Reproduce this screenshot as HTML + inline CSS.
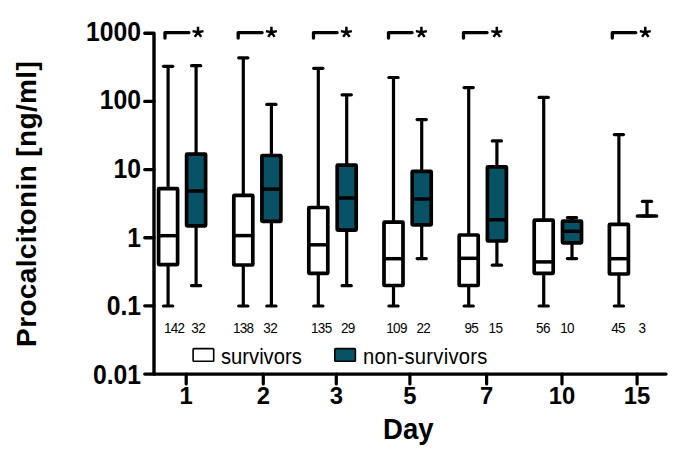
<!DOCTYPE html>
<html><head><meta charset="utf-8"><style>
html,body{margin:0;padding:0;background:#fff;}
body{width:685px;height:457px;overflow:hidden;}
svg{display:block;}
</style></head><body>
<svg width="685" height="457" viewBox="0 0 685 457">
<rect width="685" height="457" fill="#fff"/>
<g stroke="#000" stroke-width="3.4" fill="none" stroke-linecap="round" stroke-linejoin="round">
<polyline points="144.8,33.25 154,33.25 154,374.1 666,374.1"/>
<line x1="144.8" y1="101.4" x2="154" y2="101.4"/>
<line x1="144.8" y1="169.6" x2="154" y2="169.6"/>
<line x1="144.8" y1="237.8" x2="154" y2="237.8"/>
<line x1="144.8" y1="305.85" x2="154" y2="305.85"/>
<line x1="144.8" y1="374.1" x2="154" y2="374.1"/>
<line x1="186.2" y1="374" x2="186.2" y2="384" stroke-width="3.2"/>
<line x1="263.3" y1="374" x2="263.3" y2="384" stroke-width="3.2"/>
<line x1="336.3" y1="374" x2="336.3" y2="384" stroke-width="3.2"/>
<line x1="409.9" y1="374" x2="409.9" y2="384" stroke-width="3.2"/>
<line x1="486.6" y1="374" x2="486.6" y2="384" stroke-width="3.2"/>
<line x1="562.0" y1="374" x2="562.0" y2="384" stroke-width="3.2"/>
<line x1="637.1" y1="374" x2="637.1" y2="384" stroke-width="3.2"/>
</g>
<g stroke="#000" stroke-width="3.2" stroke-linejoin="round">
<line x1="168.1" y1="66.3" x2="168.1" y2="189.0"/>
<line x1="168.1" y1="264.2" x2="168.1" y2="306.0"/>
<line x1="163.50" y1="66.3" x2="172.70" y2="66.3" stroke-linecap="round"/>
<line x1="163.50" y1="306.0" x2="172.70" y2="306.0" stroke-linecap="round"/>
<rect x="158.60" y="188.70" width="19.0" height="75.90" fill="#fff" rx="0.6" stroke-width="3.7"/>
<line x1="158.60" y1="235.7" x2="177.60" y2="235.7" stroke-width="3.5"/>
<line x1="196.1" y1="65.7" x2="196.1" y2="154.4"/>
<line x1="196.1" y1="225.5" x2="196.1" y2="285.7"/>
<line x1="191.50" y1="65.7" x2="200.70" y2="65.7" stroke-linecap="round"/>
<line x1="191.50" y1="285.7" x2="200.70" y2="285.7" stroke-linecap="round"/>
<rect x="186.60" y="154.10" width="19.0" height="71.80" fill="#085265" rx="0.6" stroke-width="3.7"/>
<line x1="186.60" y1="191.0" x2="205.60" y2="191.0" stroke-width="3.5"/>
<line x1="243.3" y1="57.8" x2="243.3" y2="195.7"/>
<line x1="243.3" y1="264.6" x2="243.3" y2="306.0"/>
<line x1="238.70" y1="57.8" x2="247.90" y2="57.8" stroke-linecap="round"/>
<line x1="238.70" y1="306.0" x2="247.90" y2="306.0" stroke-linecap="round"/>
<rect x="233.80" y="195.40" width="19.0" height="69.60" fill="#fff" rx="0.6" stroke-width="3.7"/>
<line x1="233.80" y1="235.6" x2="252.80" y2="235.6" stroke-width="3.5"/>
<line x1="271.4" y1="104.4" x2="271.4" y2="155.8"/>
<line x1="271.4" y1="220.9" x2="271.4" y2="306.0"/>
<line x1="266.80" y1="104.4" x2="276.00" y2="104.4" stroke-linecap="round"/>
<line x1="266.80" y1="306.0" x2="276.00" y2="306.0" stroke-linecap="round"/>
<rect x="261.90" y="155.50" width="19.0" height="65.80" fill="#085265" rx="0.6" stroke-width="3.7"/>
<line x1="261.90" y1="189.1" x2="280.90" y2="189.1" stroke-width="3.5"/>
<line x1="318.3" y1="68.3" x2="318.3" y2="207.8"/>
<line x1="318.3" y1="273.0" x2="318.3" y2="306.0"/>
<line x1="313.70" y1="68.3" x2="322.90" y2="68.3" stroke-linecap="round"/>
<line x1="313.70" y1="306.0" x2="322.90" y2="306.0" stroke-linecap="round"/>
<rect x="308.80" y="207.50" width="19.0" height="65.90" fill="#fff" rx="0.6" stroke-width="3.7"/>
<line x1="308.80" y1="244.8" x2="327.80" y2="244.8" stroke-width="3.5"/>
<line x1="346.7" y1="94.8" x2="346.7" y2="165.5"/>
<line x1="346.7" y1="229.8" x2="346.7" y2="285.7"/>
<line x1="342.10" y1="94.8" x2="351.30" y2="94.8" stroke-linecap="round"/>
<line x1="342.10" y1="285.7" x2="351.30" y2="285.7" stroke-linecap="round"/>
<rect x="337.20" y="165.20" width="19.0" height="65.00" fill="#085265" rx="0.6" stroke-width="3.7"/>
<line x1="337.20" y1="198.0" x2="356.20" y2="198.0" stroke-width="3.5"/>
<line x1="393.5" y1="77.5" x2="393.5" y2="222.4"/>
<line x1="393.5" y1="285.1" x2="393.5" y2="306.0"/>
<line x1="388.90" y1="77.5" x2="398.10" y2="77.5" stroke-linecap="round"/>
<line x1="388.90" y1="306.0" x2="398.10" y2="306.0" stroke-linecap="round"/>
<rect x="384.00" y="222.10" width="19.0" height="63.40" fill="#fff" rx="0.6" stroke-width="3.7"/>
<line x1="384.00" y1="258.7" x2="403.00" y2="258.7" stroke-width="3.5"/>
<line x1="421.7" y1="119.6" x2="421.7" y2="171.6"/>
<line x1="421.7" y1="224.5" x2="421.7" y2="258.6"/>
<line x1="417.10" y1="119.6" x2="426.30" y2="119.6" stroke-linecap="round"/>
<line x1="417.10" y1="258.6" x2="426.30" y2="258.6" stroke-linecap="round"/>
<rect x="412.20" y="171.30" width="19.0" height="53.60" fill="#085265" rx="0.6" stroke-width="3.7"/>
<line x1="412.20" y1="199.0" x2="431.20" y2="199.0" stroke-width="3.5"/>
<line x1="468.7" y1="87.6" x2="468.7" y2="235.3"/>
<line x1="468.7" y1="285.1" x2="468.7" y2="306.0"/>
<line x1="464.10" y1="87.6" x2="473.30" y2="87.6" stroke-linecap="round"/>
<line x1="464.10" y1="306.0" x2="473.30" y2="306.0" stroke-linecap="round"/>
<rect x="459.20" y="235.00" width="19.0" height="50.50" fill="#fff" rx="0.6" stroke-width="3.7"/>
<line x1="459.20" y1="258.3" x2="478.20" y2="258.3" stroke-width="3.5"/>
<line x1="496.9" y1="140.9" x2="496.9" y2="167.2"/>
<line x1="496.9" y1="240.6" x2="496.9" y2="265.2"/>
<line x1="492.30" y1="140.9" x2="501.50" y2="140.9" stroke-linecap="round"/>
<line x1="492.30" y1="265.2" x2="501.50" y2="265.2" stroke-linecap="round"/>
<rect x="487.40" y="166.90" width="19.0" height="74.10" fill="#085265" rx="0.6" stroke-width="3.7"/>
<line x1="487.40" y1="219.8" x2="506.40" y2="219.8" stroke-width="3.5"/>
<line x1="543.7" y1="97.4" x2="543.7" y2="220.4"/>
<line x1="543.7" y1="272.9" x2="543.7" y2="306.0"/>
<line x1="539.10" y1="97.4" x2="548.30" y2="97.4" stroke-linecap="round"/>
<line x1="539.10" y1="306.0" x2="548.30" y2="306.0" stroke-linecap="round"/>
<rect x="534.20" y="220.10" width="19.0" height="53.20" fill="#fff" rx="0.6" stroke-width="3.7"/>
<line x1="534.20" y1="261.9" x2="553.20" y2="261.9" stroke-width="3.5"/>
<line x1="572.0" y1="217.6" x2="572.0" y2="221.5"/>
<line x1="572.0" y1="242.4" x2="572.0" y2="258.6"/>
<line x1="567.40" y1="217.6" x2="576.60" y2="217.6" stroke-linecap="round"/>
<line x1="567.40" y1="258.6" x2="576.60" y2="258.6" stroke-linecap="round"/>
<rect x="562.50" y="221.20" width="19.0" height="21.60" fill="#085265" rx="0.6" stroke-width="3.7"/>
<line x1="562.50" y1="231.3" x2="581.50" y2="231.3" stroke-width="3.5"/>
<line x1="618.9" y1="134.6" x2="618.9" y2="224.6"/>
<line x1="618.9" y1="273.6" x2="618.9" y2="306.0"/>
<line x1="614.30" y1="134.6" x2="623.50" y2="134.6" stroke-linecap="round"/>
<line x1="614.30" y1="306.0" x2="623.50" y2="306.0" stroke-linecap="round"/>
<rect x="609.40" y="224.30" width="19.0" height="49.70" fill="#fff" rx="0.6" stroke-width="3.7"/>
<line x1="609.40" y1="258.7" x2="628.40" y2="258.7" stroke-width="3.5"/>
<line x1="647.0" y1="201.4" x2="647.0" y2="216.0"/>
<line x1="647.0" y1="216.0" x2="647.0" y2="216.0"/>
<line x1="642.40" y1="201.4" x2="651.60" y2="201.4" stroke-linecap="round"/>
<line x1="642.40" y1="216.0" x2="651.60" y2="216.0" stroke-linecap="round"/>
<line x1="637.50" y1="216.0" x2="656.50" y2="216.0" stroke-linecap="round" stroke-width="3.7"/>
</g>
<g stroke="#000" stroke-width="3.3" fill="none" stroke-linecap="round" stroke-linejoin="round">
<polyline points="165.0,38 165.0,32.6 188.9,32.6"/>
<polyline points="238.2,38 238.2,32.6 262.09999999999997,32.6"/>
<polyline points="313.5,38 313.5,32.6 337.09999999999997,32.6"/>
<polyline points="388.5,38 388.5,32.6 412.09999999999997,32.6"/>
<polyline points="463.5,38 463.5,32.6 487.09999999999997,32.6"/>
<polyline points="612.3,38 612.3,32.6 635.8,32.6"/>
</g>
<g stroke="#000" stroke-width="2.5" fill="none">
<path d="M198.00,32.30L198.00,26.70M198.00,32.30L203.48,31.14M198.00,32.30L201.21,36.89M198.00,32.30L194.79,36.89M198.00,32.30L192.52,31.14"/>
<path d="M271.40,32.30L271.40,26.70M271.40,32.30L276.88,31.14M271.40,32.30L274.61,36.89M271.40,32.30L268.19,36.89M271.40,32.30L265.92,31.14"/>
<path d="M346.40,32.30L346.40,26.70M346.40,32.30L351.88,31.14M346.40,32.30L349.61,36.89M346.40,32.30L343.19,36.89M346.40,32.30L340.92,31.14"/>
<path d="M421.40,32.30L421.40,26.70M421.40,32.30L426.88,31.14M421.40,32.30L424.61,36.89M421.40,32.30L418.19,36.89M421.40,32.30L415.92,31.14"/>
<path d="M496.80,32.30L496.80,26.70M496.80,32.30L502.28,31.14M496.80,32.30L500.01,36.89M496.80,32.30L493.59,36.89M496.80,32.30L491.32,31.14"/>
<path d="M645.30,32.30L645.30,26.70M645.30,32.30L650.78,31.14M645.30,32.30L648.51,36.89M645.30,32.30L642.09,36.89M645.30,32.30L639.82,31.14"/>
</g>
<g font-family="'Liberation Sans', sans-serif" font-weight="bold" font-size="26" text-anchor="end">
<text transform="translate(141,41.35) scale(0.95,1.03)">1000</text>
<text transform="translate(141,109.40) scale(0.95,1.03)">100</text>
<text transform="translate(141,178.35) scale(0.95,1.03)">10</text>
<text transform="translate(141,247.15) scale(0.95,1.03)">1</text>
<text transform="translate(141,314.85) scale(0.95,1.03)">0.1</text>
<text transform="translate(141,383.50) scale(0.95,1.03)">0.01</text>
</g>
<g font-family="'Liberation Sans', sans-serif" font-weight="bold" font-size="23.8" text-anchor="middle">
<text x="186.2" y="404.2">1</text>
<text x="263.3" y="404.2">2</text>
<text x="336.3" y="404.2">3</text>
<text x="409.9" y="404.2">5</text>
<text x="486.6" y="404.2">7</text>
<text x="562.0" y="404.2">10</text>
<text x="637.1" y="404.2">15</text>
</g>
<g font-family="'Liberation Sans', sans-serif" font-size="13.5" text-anchor="middle" letter-spacing="-0.7">
<text transform="translate(174.10,332.9) scale(1,1.08)">142</text>
<text transform="translate(198.15,332.9) scale(1,1.08)">32</text>
<text transform="translate(243.20,332.9) scale(1,1.08)">138</text>
<text transform="translate(270.15,332.9) scale(1,1.08)">32</text>
<text transform="translate(321.25,332.9) scale(1,1.08)">135</text>
<text transform="translate(347.85,332.9) scale(1,1.08)">29</text>
<text transform="translate(396.50,332.9) scale(1,1.08)">109</text>
<text transform="translate(423.30,332.9) scale(1,1.08)">22</text>
<text transform="translate(471.30,332.9) scale(1,1.08)">95</text>
<text transform="translate(495.40,332.9) scale(1,1.08)">15</text>
<text transform="translate(542.90,332.9) scale(1,1.08)">56</text>
<text transform="translate(567.10,332.9) scale(1,1.08)">10</text>
<text transform="translate(618.10,332.9) scale(1,1.08)">45</text>
<text transform="translate(641.80,332.9) scale(1,1.08)">3</text>
</g>
<rect x="193.1" y="348.6" width="20.6" height="12.6" fill="#fff" stroke="#000" stroke-width="1.6" rx="0.8"/>
<rect x="334.8" y="348.6" width="20.6" height="12.6" fill="#085265" stroke="#000" stroke-width="1.6" rx="0.8"/>
<g font-family="'Liberation Sans', sans-serif" font-size="20.2">
<text transform="translate(221,363.8) scale(1,1.06)">survivors</text>
<text transform="translate(363,363.8) scale(1,1.06)" letter-spacing="0.27">non-survivors</text>
</g>
<text transform="translate(408.3,438.7) scale(0.965,1.035)" font-family="'Liberation Sans', sans-serif" font-weight="bold" font-size="28.5" text-anchor="middle">Day</text>
<text transform="translate(36.3,203.9) rotate(-90)" font-family="'Liberation Sans', sans-serif" font-weight="bold" font-size="28" letter-spacing="0.36" text-anchor="middle">Procalcitonin [ng/ml]</text>
</svg>
</body></html>
